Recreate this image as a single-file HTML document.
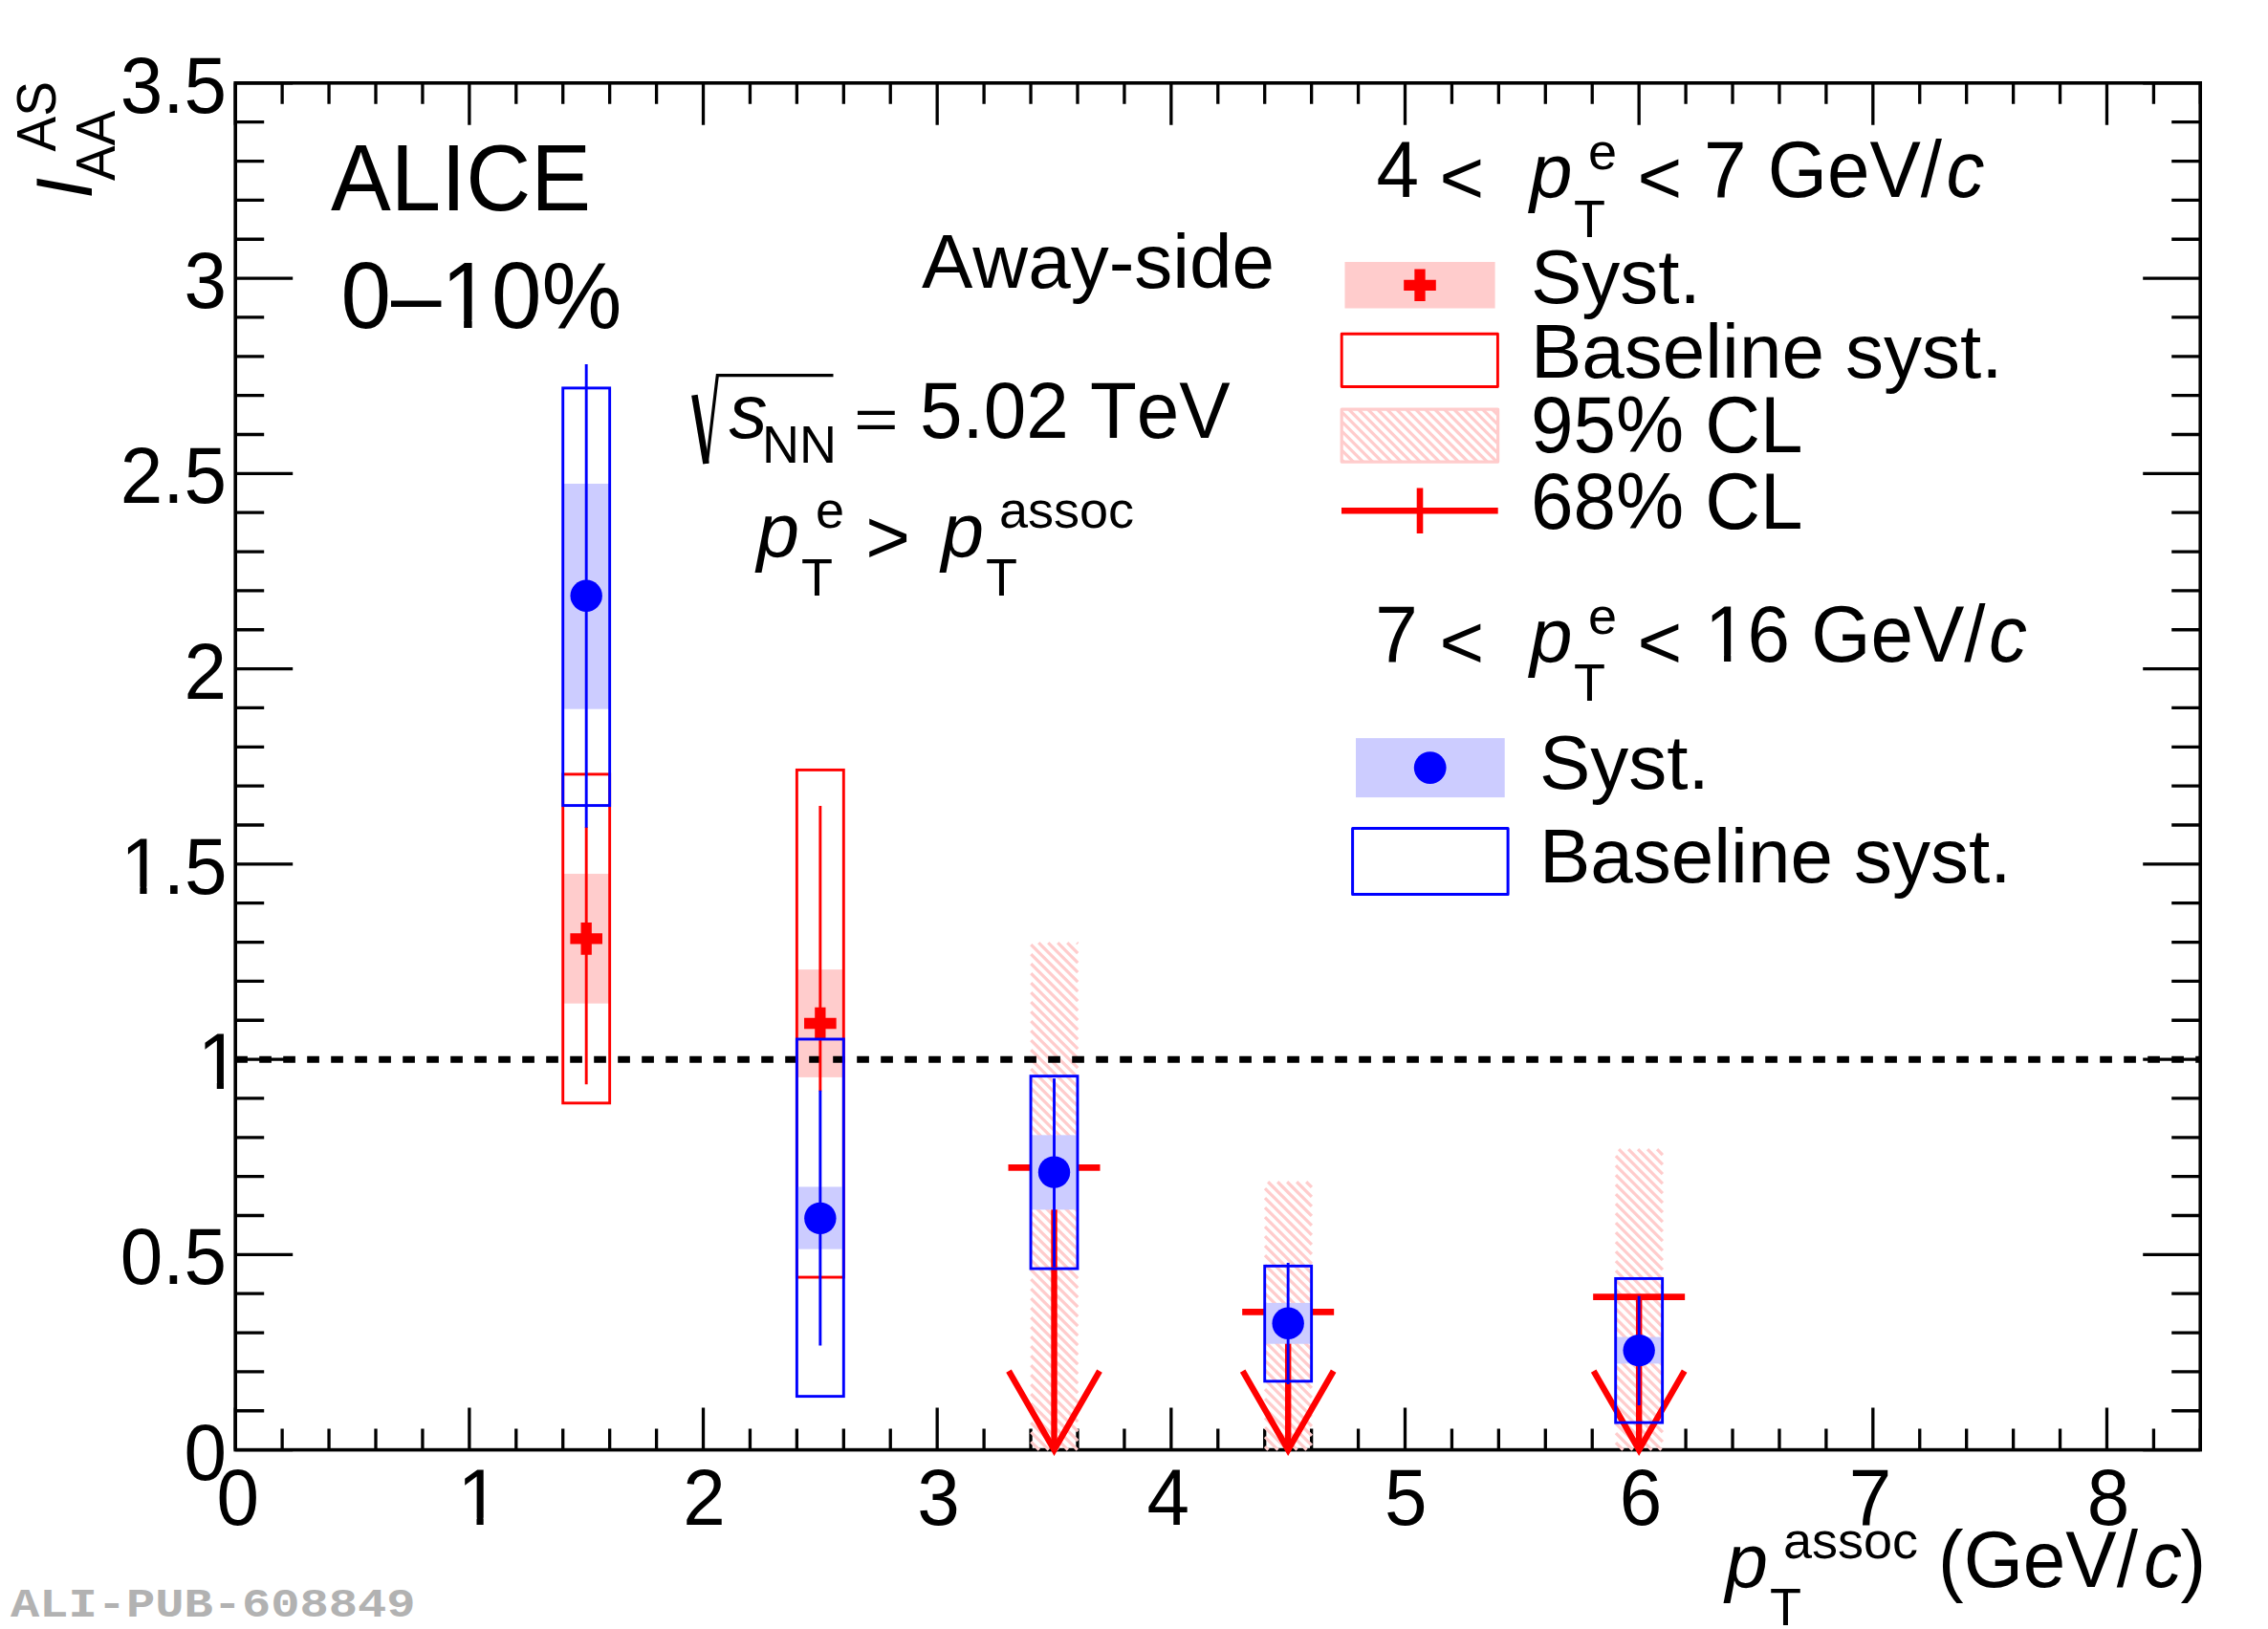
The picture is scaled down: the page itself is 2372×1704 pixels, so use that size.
<!DOCTYPE html>
<html lang="en"><head><meta charset="utf-8"><title>ALICE I_AA away-side</title>
<style>html,body{margin:0;padding:0;background:#fff}body{width:2372px;height:1704px}svg{display:block}text{font-family:"Liberation Sans",sans-serif;fill:#000;font-kerning:none}.i{font-style:italic}.m{font-family:"Liberation Mono",monospace;font-weight:bold;fill:#b2b2b2}</style>
</head><body>
<svg width="2372" height="1704" viewBox="0 0 2372 1704">
<defs><clipPath id="k0"><path clip-rule="evenodd" d="M-30,-220H74.49V60H-30ZM4.59,-7.24H20.07V3H4.59ZM27.24,-7.24H42.09V3H27.24Z"/></clipPath><clipPath id="k1"><path clip-rule="evenodd" d="M-30,-220H141.21V60H-30ZM4.59,-7.24H20.07V3H4.59ZM27.24,-7.24H42.09V3H27.24Z"/></clipPath><clipPath id="k2"><path clip-rule="evenodd" d="M-30,-220H74.49V60H-30ZM4.59,-7.24H20.07V3H4.59ZM27.24,-7.24H42.09V3H27.24Z"/></clipPath><clipPath id="k3"><path clip-rule="evenodd" d="M-30,-220H323.88V60H-30ZM110.67,-8.28H128.66V3H110.67ZM137.1,-8.28H154.36V3H137.1Z"/></clipPath><clipPath id="k4"><path clip-rule="evenodd" d="M-30,-220H118.98V60H-30ZM4.59,-7.24H20.07V3H4.59ZM27.24,-7.24H42.09V3H27.24Z"/></clipPath></defs>
<rect x="0" y="0" width="2372" height="1704" fill="#fff"/>
<rect x="246.2" y="86.8" width="2055" height="1429.8" fill="none" stroke="#000" stroke-width="3.6"/>
<path d="M246.2,1516.6v-44M246.2,86.8v44M295.13,1516.6v-22M295.13,86.8v22M344.06,1516.6v-22M344.06,86.8v22M393,1516.6v-22M393,86.8v22M441.93,1516.6v-22M441.93,86.8v22M490.86,1516.6v-44M490.86,86.8v44M539.79,1516.6v-22M539.79,86.8v22M588.72,1516.6v-22M588.72,86.8v22M637.66,1516.6v-22M637.66,86.8v22M686.59,1516.6v-22M686.59,86.8v22M735.52,1516.6v-44M735.52,86.8v44M784.45,1516.6v-22M784.45,86.8v22M833.38,1516.6v-22M833.38,86.8v22M882.32,1516.6v-22M882.32,86.8v22M931.25,1516.6v-22M931.25,86.8v22M980.18,1516.6v-44M980.18,86.8v44M1029.11,1516.6v-22M1029.11,86.8v22M1078.04,1516.6v-22M1078.04,86.8v22M1126.98,1516.6v-22M1126.98,86.8v22M1175.91,1516.6v-22M1175.91,86.8v22M1224.84,1516.6v-44M1224.84,86.8v44M1273.77,1516.6v-22M1273.77,86.8v22M1322.7,1516.6v-22M1322.7,86.8v22M1371.64,1516.6v-22M1371.64,86.8v22M1420.57,1516.6v-22M1420.57,86.8v22M1469.5,1516.6v-44M1469.5,86.8v44M1518.43,1516.6v-22M1518.43,86.8v22M1567.36,1516.6v-22M1567.36,86.8v22M1616.3,1516.6v-22M1616.3,86.8v22M1665.23,1516.6v-22M1665.23,86.8v22M1714.16,1516.6v-44M1714.16,86.8v44M1763.09,1516.6v-22M1763.09,86.8v22M1812.02,1516.6v-22M1812.02,86.8v22M1860.96,1516.6v-22M1860.96,86.8v22M1909.89,1516.6v-22M1909.89,86.8v22M1958.82,1516.6v-44M1958.82,86.8v44M2007.75,1516.6v-22M2007.75,86.8v22M2056.68,1516.6v-22M2056.68,86.8v22M2105.62,1516.6v-22M2105.62,86.8v22M2154.55,1516.6v-22M2154.55,86.8v22M2203.48,1516.6v-44M2203.48,86.8v44M2252.41,1516.6v-22M2252.41,86.8v22M2301.34,1516.6v-22M2301.34,86.8v22M246.2,1516.6h60M2301.2,1516.6h-60M246.2,1475.75h30M2301.2,1475.75h-30M246.2,1434.9h30M2301.2,1434.9h-30M246.2,1394.05h30M2301.2,1394.05h-30M246.2,1353.2h30M2301.2,1353.2h-30M246.2,1312.35h60M2301.2,1312.35h-60M246.2,1271.5h30M2301.2,1271.5h-30M246.2,1230.65h30M2301.2,1230.65h-30M246.2,1189.8h30M2301.2,1189.8h-30M246.2,1148.95h30M2301.2,1148.95h-30M246.2,1108.1h60M2301.2,1108.1h-60M246.2,1067.25h30M2301.2,1067.25h-30M246.2,1026.4h30M2301.2,1026.4h-30M246.2,985.55h30M2301.2,985.55h-30M246.2,944.7h30M2301.2,944.7h-30M246.2,903.85h60M2301.2,903.85h-60M246.2,863h30M2301.2,863h-30M246.2,822.15h30M2301.2,822.15h-30M246.2,781.3h30M2301.2,781.3h-30M246.2,740.45h30M2301.2,740.45h-30M246.2,699.6h60M2301.2,699.6h-60M246.2,658.75h30M2301.2,658.75h-30M246.2,617.9h30M2301.2,617.9h-30M246.2,577.05h30M2301.2,577.05h-30M246.2,536.2h30M2301.2,536.2h-30M246.2,495.35h60M2301.2,495.35h-60M246.2,454.5h30M2301.2,454.5h-30M246.2,413.65h30M2301.2,413.65h-30M246.2,372.8h30M2301.2,372.8h-30M246.2,331.95h30M2301.2,331.95h-30M246.2,291.1h60M2301.2,291.1h-60M246.2,250.25h30M2301.2,250.25h-30M246.2,209.4h30M2301.2,209.4h-30M246.2,168.55h30M2301.2,168.55h-30M246.2,127.7h30M2301.2,127.7h-30M246.2,86.85h60M2301.2,86.85h-60" stroke="#000" stroke-width="3.3" fill="none"/>
<path d="M1126.24,986.04L1127.23,987.03M1116.24,986.04L1127.23,997.03M1106.24,986.04L1127.23,1007.03M1096.24,986.04L1127.23,1017.03M1086.24,986.04L1127.23,1027.03M1078.29,988.09L1127.23,1037.03M1078.29,998.09L1127.23,1047.03M1078.29,1008.09L1127.23,1057.03M1078.29,1018.09L1127.23,1067.03M1078.29,1028.09L1127.23,1077.03M1078.29,1038.09L1127.23,1087.03M1078.29,1048.09L1127.23,1097.03M1078.29,1058.09L1127.23,1107.03M1078.29,1068.09L1127.23,1117.03M1078.29,1078.09L1127.23,1127.03M1078.29,1088.09L1127.23,1137.03M1078.29,1098.09L1127.23,1147.03M1078.29,1108.09L1127.23,1157.03M1078.29,1118.09L1127.23,1167.03M1078.29,1128.09L1127.23,1177.03M1078.29,1138.09L1127.23,1187.03M1078.29,1148.09L1127.23,1197.03M1078.29,1158.09L1127.23,1207.03M1078.29,1168.09L1127.23,1217.03M1078.29,1178.09L1127.23,1227.03M1078.29,1188.09L1127.23,1237.03M1078.29,1198.09L1127.23,1247.03M1078.29,1208.09L1127.23,1257.03M1078.29,1218.09L1127.23,1267.03M1078.29,1228.09L1127.23,1277.03M1078.29,1238.09L1127.23,1287.03M1078.29,1248.09L1127.23,1297.03M1078.29,1258.09L1127.23,1307.03M1078.29,1268.09L1127.23,1317.03M1078.29,1278.09L1127.23,1327.03M1078.29,1288.09L1127.23,1337.03M1078.29,1298.09L1127.23,1347.03M1078.29,1308.09L1127.23,1357.03M1078.29,1318.09L1127.23,1367.03M1078.29,1328.09L1127.23,1377.03M1078.29,1338.09L1127.23,1387.03M1078.29,1348.09L1127.23,1397.03M1078.29,1358.09L1127.23,1407.03M1078.29,1368.09L1127.23,1417.03M1078.29,1378.09L1127.23,1427.03M1078.29,1388.09L1127.23,1437.03M1078.29,1398.09L1127.23,1447.03M1078.29,1408.09L1127.23,1457.03M1078.29,1418.09L1127.23,1467.03M1078.29,1428.09L1127.23,1477.03M1078.29,1438.09L1127.23,1487.03M1078.29,1448.09L1127.23,1497.03M1078.29,1458.09L1127.23,1507.03M1078.29,1468.09L1126.8,1516.6M1078.29,1478.09L1116.8,1516.6M1078.29,1488.09L1106.8,1516.6M1078.29,1498.09L1096.8,1516.6M1078.29,1508.09L1086.8,1516.6" stroke="#ffcccc" stroke-width="3.2" fill="none"/>
<path d="M1366.15,1236.25L1371.89,1241.99M1356.15,1236.25L1371.89,1251.99M1346.15,1236.25L1371.89,1261.99M1336.15,1236.25L1371.89,1271.99M1326.15,1236.25L1371.89,1281.99M1322.95,1243.05L1371.89,1291.99M1322.95,1253.05L1371.89,1301.99M1322.95,1263.05L1371.89,1311.99M1322.95,1273.05L1371.89,1321.99M1322.95,1283.05L1371.89,1331.99M1322.95,1293.05L1371.89,1341.99M1322.95,1303.05L1371.89,1351.99M1322.95,1313.05L1371.89,1361.99M1322.95,1323.05L1371.89,1371.99M1322.95,1333.05L1371.89,1381.99M1322.95,1343.05L1371.89,1391.99M1322.95,1353.05L1371.89,1401.99M1322.95,1363.05L1371.89,1411.99M1322.95,1373.05L1371.89,1421.99M1322.95,1383.05L1371.89,1431.99M1322.95,1393.05L1371.89,1441.99M1322.95,1403.05L1371.89,1451.99M1322.95,1413.05L1371.89,1461.99M1322.95,1423.05L1371.89,1471.99M1322.95,1433.05L1371.89,1481.99M1322.95,1443.05L1371.89,1491.99M1322.95,1453.05L1371.89,1501.99M1322.95,1463.05L1371.89,1511.99M1322.95,1473.05L1366.5,1516.6M1322.95,1483.05L1356.5,1516.6M1322.95,1493.05L1346.5,1516.6M1322.95,1503.05L1336.5,1516.6M1322.95,1513.05L1326.5,1516.6" stroke="#ffcccc" stroke-width="3.2" fill="none"/>
<path d="M1733.07,1202.22L1738.88,1208.03M1723.07,1202.22L1738.88,1218.03M1713.07,1202.22L1738.88,1228.03M1703.07,1202.22L1738.88,1238.03M1693.07,1202.22L1738.88,1248.03M1689.94,1209.09L1738.88,1258.03M1689.94,1219.09L1738.88,1268.03M1689.94,1229.09L1738.88,1278.03M1689.94,1239.09L1738.88,1288.03M1689.94,1249.09L1738.88,1298.03M1689.94,1259.09L1738.88,1308.03M1689.94,1269.09L1738.88,1318.03M1689.94,1279.09L1738.88,1328.03M1689.94,1289.09L1738.88,1338.03M1689.94,1299.09L1738.88,1348.03M1689.94,1309.09L1738.88,1358.03M1689.94,1319.09L1738.88,1368.03M1689.94,1329.09L1738.88,1378.03M1689.94,1339.09L1738.88,1388.03M1689.94,1349.09L1738.88,1398.03M1689.94,1359.09L1738.88,1408.03M1689.94,1369.09L1738.88,1418.03M1689.94,1379.09L1738.88,1428.03M1689.94,1389.09L1738.88,1438.03M1689.94,1399.09L1738.88,1448.03M1689.94,1409.09L1738.88,1458.03M1689.94,1419.09L1738.88,1468.03M1689.94,1429.09L1738.88,1478.03M1689.94,1439.09L1738.88,1488.03M1689.94,1449.09L1738.88,1498.03M1689.94,1459.09L1738.88,1508.03M1689.94,1469.09L1737.45,1516.6M1689.94,1479.09L1727.45,1516.6M1689.94,1489.09L1717.45,1516.6M1689.94,1499.09L1707.45,1516.6M1689.94,1509.09L1697.45,1516.6" stroke="#ffcccc" stroke-width="3.2" fill="none"/>
<rect x="588.72" y="914.06" width="48.93" height="135.62" fill="#ffcccc"/>
<rect x="833.38" y="1014.14" width="48.93" height="112.75" fill="#ffcccc"/>
<line x1="246.2" y1="1108.25" x2="2301.2" y2="1108.25" stroke="#000" stroke-width="6.9" stroke-dasharray="12.7 12.3"/>
<rect x="588.72" y="809.89" width="48.93" height="343.96" fill="none" stroke="#ff0000" stroke-width="2.9"/>
<line x1="613.19" y1="865" x2="613.19" y2="1134.24" stroke="#ff0000" stroke-width="2.9"/>
<polygon points="607.54,965.07 618.84,965.07 618.84,976.22 629.99,976.22 629.99,987.52 618.84,987.52 618.84,998.67 607.54,998.67 607.54,987.52 596.39,987.52 596.39,976.22 607.54,976.22" fill="#ff0000"/>
<rect x="833.38" y="805.4" width="48.93" height="530.64" fill="none" stroke="#ff0000" stroke-width="2.9"/>
<line x1="857.85" y1="842.98" x2="857.85" y2="1141.47" stroke="#ff0000" stroke-width="2.9"/>
<polygon points="852.2,1053.72 863.5,1053.72 863.5,1064.87 874.65,1064.87 874.65,1076.17 863.5,1076.17 863.5,1087.32 852.2,1087.32 852.2,1076.17 841.05,1076.17 841.05,1064.87 852.2,1064.87" fill="#ff0000"/>
<line x1="1054.51" y1="1221.42" x2="1150.51" y2="1221.42" stroke="#ff0000" stroke-width="6.6"/>
<line x1="1102.51" y1="1221.42" x2="1102.51" y2="1516.6" stroke="#ff0000" stroke-width="6.4"/>
<polyline points="1055.01,1434.1 1102.51,1516.6 1150.01,1434.1" fill="none" stroke="#ff0000" stroke-width="6.4" stroke-linejoin="miter" stroke-miterlimit="10"/>
<line x1="1299.17" y1="1372.4" x2="1395.17" y2="1372.4" stroke="#ff0000" stroke-width="6.6"/>
<line x1="1347.17" y1="1372.4" x2="1347.17" y2="1516.6" stroke="#ff0000" stroke-width="6.4"/>
<polyline points="1299.67,1434.1 1347.17,1516.6 1394.67,1434.1" fill="none" stroke="#ff0000" stroke-width="6.4" stroke-linejoin="miter" stroke-miterlimit="10"/>
<line x1="1666.16" y1="1356.67" x2="1762.16" y2="1356.67" stroke="#ff0000" stroke-width="6.6"/>
<line x1="1714.16" y1="1356.67" x2="1714.16" y2="1516.6" stroke="#ff0000" stroke-width="6.4"/>
<polyline points="1666.66,1434.1 1714.16,1516.6 1761.66,1434.1" fill="none" stroke="#ff0000" stroke-width="6.4" stroke-linejoin="miter" stroke-miterlimit="10"/>
<rect x="588.72" y="505.97" width="48.93" height="235.7" fill="#ccccff"/>
<rect x="833.38" y="1241.48" width="48.93" height="65.16" fill="#ccccff"/>
<rect x="1078.04" y="1187.35" width="48.93" height="78.02" fill="#ccccff"/>
<rect x="1322.7" y="1362.88" width="48.93" height="42.81" fill="#ccccff"/>
<rect x="1689.69" y="1398.58" width="48.93" height="27.82" fill="#ccccff"/>
<rect x="588.72" y="405.89" width="48.93" height="436.69" fill="none" stroke="#0000ff" stroke-width="2.9"/>
<line x1="613.19" y1="380.97" x2="613.19" y2="865.86" stroke="#0000ff" stroke-width="2.9"/>
<circle cx="613.19" cy="623.21" r="16.7" fill="#0000ff"/>
<rect x="833.38" y="1086.98" width="48.93" height="373.65" fill="none" stroke="#0000ff" stroke-width="2.9"/>
<line x1="857.85" y1="1140.78" x2="857.85" y2="1407.53" stroke="#0000ff" stroke-width="2.9"/>
<circle cx="857.85" cy="1274.36" r="16.7" fill="#0000ff"/>
<rect x="1078.04" y="1125.67" width="48.93" height="201.39" fill="none" stroke="#0000ff" stroke-width="2.9"/>
<line x1="1102.51" y1="1128.12" x2="1102.51" y2="1325.22" stroke="#0000ff" stroke-width="2.9"/>
<circle cx="1102.51" cy="1226.16" r="16.7" fill="#0000ff"/>
<rect x="1322.7" y="1324.32" width="48.93" height="120.51" fill="none" stroke="#0000ff" stroke-width="2.9"/>
<line x1="1347.17" y1="1320.93" x2="1347.17" y2="1447.97" stroke="#0000ff" stroke-width="2.9"/>
<circle cx="1347.17" cy="1384.25" r="16.7" fill="#0000ff"/>
<rect x="1689.69" y="1337.43" width="48.93" height="150.65" fill="none" stroke="#0000ff" stroke-width="2.9"/>
<line x1="1714.16" y1="1355.65" x2="1714.16" y2="1470.03" stroke="#0000ff" stroke-width="2.9"/>
<circle cx="1714.16" cy="1412.6" r="16.7" fill="#0000ff"/>
<text transform="translate(192.51,1547.6) scale(1,1.0436)" font-size="80">0</text>
<text transform="translate(125.79,1343.35) scale(1,1.0436)" font-size="80">0.5</text>
<g transform="translate(206.71,1139.1)" clip-path="url(#k0)"><text transform="scale(1,1.0436)" font-size="80">1</text></g>
<g transform="translate(126.29,934.85)" clip-path="url(#k1)"><text transform="scale(1,1.0436)" font-size="80">1.5</text></g>
<text transform="translate(192.51,730.6) scale(1,1.0436)" font-size="80">2</text>
<text transform="translate(125.79,526.35) scale(1,1.0436)" font-size="80">2.5</text>
<text transform="translate(192.51,322.1) scale(1,1.0436)" font-size="80">3</text>
<text transform="translate(125.79,117.85) scale(1,1.0436)" font-size="80">3.5</text>
<text transform="translate(226.45,1595) scale(1,1.0436)" font-size="80">0</text>
<g transform="translate(478.41,1595)" clip-path="url(#k2)"><text transform="scale(1,1.0436)" font-size="80">1</text></g>
<text transform="translate(714.17,1595) scale(1,1.0436)" font-size="80">2</text>
<text transform="translate(959.23,1595) scale(1,1.0436)" font-size="80">3</text>
<text transform="translate(1199.39,1595) scale(1,1.0436)" font-size="80">4</text>
<text transform="translate(1448.05,1595) scale(1,1.0436)" font-size="80">5</text>
<text transform="translate(1693.71,1595) scale(1,1.0436)" font-size="80">6</text>
<text transform="translate(1933.67,1595) scale(1,1.0436)" font-size="80">7</text>
<text transform="translate(2182.83,1595) scale(1,1.0436)" font-size="80">8</text>
<text transform="translate(96.4,208) rotate(-90) scale(1,1.0436)" font-size="80" class="i">I</text>
<text transform="translate(119.7,189) rotate(-90) scale(1,1.0436)" font-size="55">AA</text>
<text transform="translate(57.7,158.5) rotate(-90) scale(1,1.0436)" font-size="55">AS</text>
<text x="1804.5" y="1659.8" font-size="80" class="i">p</text>
<text transform="translate(1851,1700.2) scale(1,1.0436)" font-size="54">T</text>
<text x="1865" y="1630.1" font-size="54">assoc</text>
<text transform="translate(2027,1659.8) scale(1,1.0436)" font-size="80">(GeV/<tspan class="i" dx="6.05">c</tspan><tspan dx="-1.5">)</tspan></text>
<text transform="translate(346,220.1) scale(0.966,1)" font-size="97.5">ALICE</text>
<g transform="translate(356.5,343.1)" clip-path="url(#k3)"><text transform="scale(0.968,1)" font-size="97.5">0–10%</text></g>
<text x="964" y="300.9" font-size="80">Away-side</text>
<path d="M739.3,484.6 L750.3,392.7 L871.5,392.7" fill="none" stroke="#000" stroke-width="3.2" stroke-linejoin="miter"/>
<path d="M726.4,413.3 L738.5,485" fill="none" stroke="#000" stroke-width="6.6"/>
<text x="762.5" y="457.7" font-size="80" class="i">s</text>
<text transform="translate(797,484) scale(1,1.0436)" font-size="54">NN</text>
<text transform="translate(893,458.8) scale(1,0.75)" font-size="80">=</text>
<text transform="translate(962,457.7) scale(1,1.0436)" font-size="80">5.02</text>
<text transform="translate(1139.93,457.7) scale(1,1.0436)" font-size="80">TeV</text>
<text x="791.5" y="581.8" font-size="80" class="i">p</text>
<text transform="translate(838,622.8) scale(1,1.0436)" font-size="54">T</text>
<text x="853" y="551.9" font-size="54">e</text>
<text x="905.2" y="589" font-size="80">&gt;</text>
<text x="984.5" y="581.8" font-size="80" class="i">p</text>
<text transform="translate(1031,622.8) scale(1,1.0436)" font-size="54">T</text>
<text x="1045" y="551.9" font-size="54">assoc</text>
<text transform="translate(1439.5,205.8) scale(1,1.0436)" font-size="80">4</text>
<text x="1505.5" y="212.8" font-size="80">&lt;</text>
<text x="1600" y="205.8" font-size="80" class="i">p</text>
<text transform="translate(1646,247.5) scale(1,1.0436)" font-size="54">T</text>
<text x="1661" y="176.9" font-size="54">e</text>
<text x="1712.5" y="212.8" font-size="80">&lt;</text>
<text transform="translate(1782,205.8) scale(1,1.0436)" font-size="80">7</text>
<text transform="translate(1848.72,205.8) scale(1,1.0436)" font-size="80">GeV/<tspan class="i" dx="4.48">c</tspan></text>
<rect x="1406.5" y="274" width="157.1" height="48.5" fill="#ffcccc"/>
<polygon points="1479.35,281.5 1490.65,281.5 1490.65,292.65 1501.8,292.65 1501.8,303.95 1490.65,303.95 1490.65,315.1 1479.35,315.1 1479.35,303.95 1468.2,303.95 1468.2,292.65 1479.35,292.65" fill="#ff0000"/>
<text x="1601" y="316.9" font-size="80">Syst.</text>
<rect x="1403.2" y="349.3" width="163.2" height="55.2" fill="none" stroke="#ff0000" stroke-width="2.9" stroke-linejoin="round"/>
<text x="1601" y="395" font-size="80">Baseline</text>
<text x="1930.1" y="395" font-size="80">syst.</text>
<path d="M1560.5,428.1L1566.6,434.2M1550.5,428.1L1566.6,444.2M1540.5,428.1L1566.6,454.2M1530.5,428.1L1566.6,464.2M1520.5,428.1L1566.6,474.2M1510.5,428.1L1565.5,483.1M1500.5,428.1L1555.5,483.1M1490.5,428.1L1545.5,483.1M1480.5,428.1L1535.5,483.1M1470.5,428.1L1525.5,483.1M1460.5,428.1L1515.5,483.1M1450.5,428.1L1505.5,483.1M1440.5,428.1L1495.5,483.1M1430.5,428.1L1485.5,483.1M1420.5,428.1L1475.5,483.1M1410.5,428.1L1465.5,483.1M1403.2,430.8L1455.5,483.1M1403.2,440.8L1445.5,483.1M1403.2,450.8L1435.5,483.1M1403.2,460.8L1425.5,483.1M1403.2,470.8L1415.5,483.1M1403.2,480.8L1405.5,483.1" stroke="#ffcccc" stroke-width="3.3" fill="none"/>
<rect x="1403.2" y="428.1" width="163.4" height="55" fill="none" stroke="#ffcccc" stroke-width="3.2" stroke-linejoin="round"/>
<text transform="translate(1601,472.8) scale(1,1.0436)" font-size="80">95%</text>
<text transform="translate(1783.34,472.8) scale(1,1.0436)" font-size="80">CL</text>
<path d="M1403,534.3H1566.7M1485,510.4V558" stroke="#ff0000" stroke-width="6.6" fill="none"/>
<text transform="translate(1601,552.7) scale(1,1.0436)" font-size="80">68%</text>
<text transform="translate(1783.34,552.7) scale(1,1.0436)" font-size="80">CL</text>
<text transform="translate(1438.2,691.7) scale(1,1.0436)" font-size="80">7</text>
<text x="1505.5" y="698.7" font-size="80">&lt;</text>
<text x="1600" y="691.7" font-size="80" class="i">p</text>
<text transform="translate(1646,733.4) scale(1,1.0436)" font-size="54">T</text>
<text x="1661" y="662.8" font-size="54">e</text>
<text x="1712.5" y="698.7" font-size="80">&lt;</text>
<g transform="translate(1783,691.7)" clip-path="url(#k4)"><text transform="scale(1,1.0436)" font-size="80">16</text></g>
<text transform="translate(1894.21,691.7) scale(1,1.0436)" font-size="80">GeV/<tspan class="i" dx="3.48">c</tspan></text>
<rect x="1418" y="772.1" width="155.7" height="62" fill="#ccccff"/>
<circle cx="1495.7" cy="803.1" r="16.9" fill="#0000ff"/>
<text x="1610" y="825" font-size="80">Syst.</text>
<rect x="1414.6" y="866.5" width="162.5" height="69" fill="none" stroke="#0000ff" stroke-width="3" stroke-linejoin="round"/>
<text x="1610" y="922.8" font-size="80">Baseline</text>
<text x="1939.1" y="922.8" font-size="80">syst.</text>
<text transform="translate(11,1690.7) scale(1.212,1)" font-size="41.6" class="m">ALI-PUB-608849</text>
</svg></body></html>
